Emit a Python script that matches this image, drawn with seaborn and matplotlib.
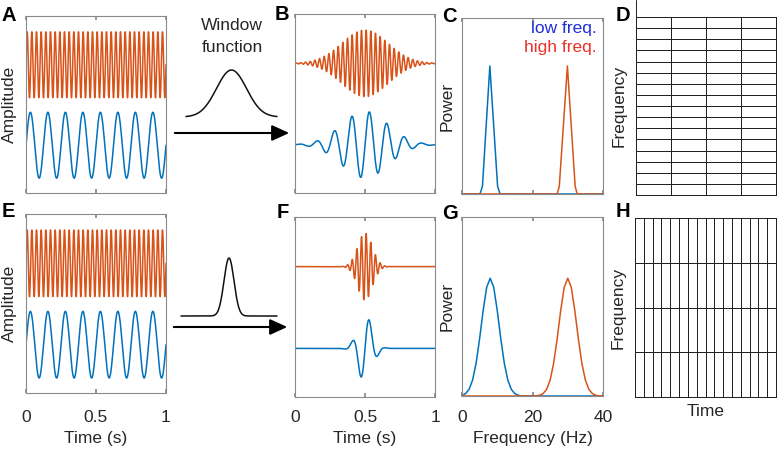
import numpy as np
import pandas as pd
import matplotlib
matplotlib.use("Agg")
import matplotlib.pyplot as plt
from matplotlib.colors import ListedColormap
from matplotlib.patches import FancyArrowPatch
import seaborn as sns

# ---------------- data ----------------
band_names = ["low", "high"]
signal_freqs_hz = [8, 30]          # low / high frequency sine
signal_offsets = [-1.22, 1.22]     # vertical stacking of the two traces
window_sigmas_s = [0.165, 0.052]   # wide window (top row), narrow window (bottom row)
time_ticks = [0, 0.5, 1]
time_tick_labels = ["0", "0.5", "1"]
freq_ticks = [0, 20, 40]

# panel C: spectra with the wide window
spec_c_low_f = [0, 5.1, 5.8, 7.9, 10.1, 10.8, 40]
spec_c_low_p = [0, 0, 0.06, 1.0, 0.06, 0, 0]
spec_c_high_f = [0, 27.0, 27.6, 29.9, 32.1, 32.7, 40]
spec_c_high_p = [0, 0, 0.06, 1.0, 0.06, 0, 0]

# panel G: spectra with the narrow window (1 Hz bins)
spec_g_f = list(range(41))
spec_g_low = [0.006, 0.02, 0.056, 0.135, 0.278, 0.487, 0.726, 0.923, 1.0, 0.923,
              0.726, 0.487, 0.278, 0.135, 0.056, 0.02, 0.006, 0, 0, 0,
              0, 0, 0, 0, 0, 0, 0, 0, 0, 0,
              0, 0, 0, 0, 0, 0, 0, 0, 0, 0, 0]
spec_g_high = [0, 0, 0, 0, 0, 0, 0, 0, 0, 0,
               0, 0, 0, 0, 0, 0, 0, 0, 0, 0,
               0, 0, 0.006, 0.02, 0.056, 0.135, 0.278, 0.487, 0.726, 0.923,
               1.0, 0.923, 0.726, 0.487, 0.278, 0.135, 0.056, 0.02, 0.006, 0, 0]

grid_time_bins = [4, 16]
grid_freq_bins = [16, 4]

# ---------------- style ----------------
sns.set_theme(style="white")
plt.rcParams["font.family"] = ["Liberation Sans", "DejaVu Sans"]
FS = 12.5
plt.rcParams["font.size"] = FS

BLUE = "#0072BD"
ORANGE = "#D95319"
FRAME = "#8a8a8a"
TXT = "#262626"
GRID = "#222222"
GRID_LW = 0.7
LW = 1.1
palette = {"low": BLUE, "high": ORANGE}

W, H = 777, 450
fig = plt.figure(figsize=(W / 100, H / 100), dpi=100)


def rect(l, t, r, b):
    return [l / W, 1 - b / H, (r - l) / W, (b - t) / H]


def style_frame(ax, lw=0.8, color=FRAME):
    for s in ax.spines.values():
        s.set_visible(True)
        s.set_color(color)
        s.set_linewidth(lw)


t = np.linspace(0, 1, 1001)


def time_df(sigma=None):
    rows = []
    for name, f, off in zip(band_names, signal_freqs_hz, signal_offsets):
        y = np.sin(2 * np.pi * f * t)
        if sigma is not None:
            y = y * np.exp(-(t - 0.5) ** 2 / (2 * sigma ** 2))
        rows.append(pd.DataFrame({"t": t, "y": y + off, "band": name}))
    return pd.concat(rows, ignore_index=True)


def set_xlabel_center(ax, text, rect_px, y_center):
    ax.set_xlabel(text, fontsize=FS, color=TXT)
    ax.xaxis.label.set_va("center")
    ax.xaxis.set_label_coords(0.5, -(y_center - rect_px[3]) / (rect_px[3] - rect_px[1]))


def time_panel(rect_px, df, show_labels, ylabel, pad):
    ax = fig.add_axes(rect(*rect_px))
    sns.lineplot(data=df, x="t", y="y", hue="band", hue_order=band_names,
                 palette=palette, legend=False, estimator=None, ax=ax, linewidth=LW)
    ax.set_xlim(0, 1)
    ax.set_ylim(-2.67, 2.7)
    ax.set_yticks([])
    ax.set_xticks(time_ticks)
    ax.set_xticklabels(time_tick_labels)
    ax.tick_params(axis="x", direction="in", top=True, bottom=True, length=3,
                   color=FRAME, labelbottom=show_labels, labelsize=FS,
                   labelcolor=TXT, pad=pad)
    ax.set_ylabel(ylabel if ylabel else "", fontsize=FS, color=TXT)
    ax.yaxis.label.set_va("center")
    ax.yaxis.set_label_coords(-0.115, 0.5)
    if show_labels:
        set_xlabel_center(ax, "Time (s)", rect_px, 438)
    else:
        ax.set_xlabel("")
    style_frame(ax)
    return ax


def spec_panel(rect_px, df, ytop, show_labels, pad):
    ax = fig.add_axes(rect(*rect_px))
    sns.lineplot(data=df, x="f", y="p", hue="band", hue_order=band_names,
                 palette=palette, legend=False, estimator=None, ax=ax, linewidth=LW)
    ax.set_xlim(0, 40)
    ax.set_ylim(0, ytop)
    ax.set_yticks([])
    ax.set_xticks(freq_ticks)
    ax.tick_params(axis="x", direction="in", top=True, bottom=True, length=3,
                   color=FRAME, labelbottom=show_labels, labelsize=FS,
                   labelcolor=TXT, pad=pad)
    ax.set_ylabel("Power", fontsize=FS, color=TXT)
    ax.yaxis.label.set_va("center")
    ax.yaxis.set_label_coords(-0.106, 0.5)
    if show_labels:
        set_xlabel_center(ax, "Frequency (Hz)", rect_px, 438)
    else:
        ax.set_xlabel("")
    style_frame(ax)
    for ln in ax.lines:
        ln.set_clip_on(False)
    return ax


def grid_panel(rect_px, nrows, ncols, show_time):
    ax = fig.add_axes(rect(*rect_px))
    sns.heatmap(np.zeros((nrows, ncols)), ax=ax, cmap=ListedColormap(["white"]),
                cbar=False, linewidths=GRID_LW, linecolor=GRID,
                xticklabels=False, yticklabels=False)
    ax.collections[0].set_clip_on(False)
    ax.set_ylabel("Frequency", fontsize=FS, color=TXT)
    ax.yaxis.label.set_va("center")
    ax.yaxis.set_label_coords(-0.12, 0.5)
    if show_time:
        set_xlabel_center(ax, "Time", rect_px, 412)
    return ax


# ---- top row (wide window) ----
time_panel((26, 16, 166, 193), time_df(), False, "Amplitude", 9)
time_panel((295, 14, 435, 193), time_df(window_sigmas_s[0]), False, None, 9)
dfc = pd.concat([
    pd.DataFrame({"f": spec_c_low_f, "p": spec_c_low_p, "band": "low"}),
    pd.DataFrame({"f": spec_c_high_f, "p": spec_c_high_p, "band": "high"}),
], ignore_index=True)
axC = spec_panel((462, 18, 603, 194), dfc, 1.375, False, 7)
axC.text(0.957, 0.943, "low freq.", transform=axC.transAxes, ha="right", va="center",
         color="#1f2fd6", fontsize=FS)
axC.text(0.957, 0.83, "high freq.", transform=axC.transAxes, ha="right", va="center",
         color="#e8322a", fontsize=FS)
axD = grid_panel((636, 17, 776, 195), grid_freq_bins[0], grid_time_bins[0], False)
axD.plot([0, 0], [0, -1.55], color=GRID, lw=GRID_LW, clip_on=False)

# ---- bottom row (narrow window) ----
time_panel((26, 214, 166, 393), time_df(), True, "Amplitude", 12)
time_panel((295, 217, 435, 397), time_df(window_sigmas_s[1]), True, None, 9.5)
dfg = pd.concat([
    pd.DataFrame({"f": spec_g_f, "p": spec_g_low, "band": "low"}),
    pd.DataFrame({"f": spec_g_f, "p": spec_g_high, "band": "high"}),
], ignore_index=True)
spec_panel((462, 217, 603, 396), dfg, 1.52, True, 10)
grid_panel((635, 218, 776, 397), grid_freq_bins[1], grid_time_bins[1], True)

# ---- window function sketches ----
tw = np.linspace(0, 1, 400)
for sig, box in zip(window_sigmas_s, [(186, 70, 277, 117), (181, 258, 277, 316)]):
    axw = fig.add_axes(rect(*box))
    sns.lineplot(x=tw, y=np.exp(-(tw - 0.5) ** 2 / (2 * sig ** 2)), ax=axw,
                 color="#111111", linewidth=LW)
    axw.set_xlim(0, 1)
    axw.set_ylim(0, 1)
    axw.axis("off")
    for ln in axw.lines:
        ln.set_clip_on(False)

fig.text(232 / W, 1 - 25 / H, "Window", ha="center", va="center", fontsize=FS, color=TXT)
fig.text(232 / W, 1 - 47 / H, "function", ha="center", va="center", fontsize=FS, color=TXT)

for (x0, x1, y) in [(172, 292, 133), (171, 290, 327)]:
    arr = FancyArrowPatch((x0 / W, 1 - y / H), (x1 / W, 1 - y / H),
                          transform=fig.transFigure,
                          arrowstyle="-|>,head_length=0.7,head_width=0.32",
                          mutation_scale=15, lw=1.5, color="black")
    fig.add_artist(arr)

# ---- panel letters ----
letters = [("A", 2, 21), ("B", 275, 20), ("C", 442, 22), ("D", 616, 21),
           ("E", 2, 217), ("F", 277, 218), ("G", 442, 219), ("H", 616, 217)]
for s, x, yb in letters:
    fig.text(x / W, 1 - yb / H, s, ha="left", va="baseline", fontsize=14.5,
             fontweight="bold", color="black")

fig.savefig("out.png", dpi=100)
